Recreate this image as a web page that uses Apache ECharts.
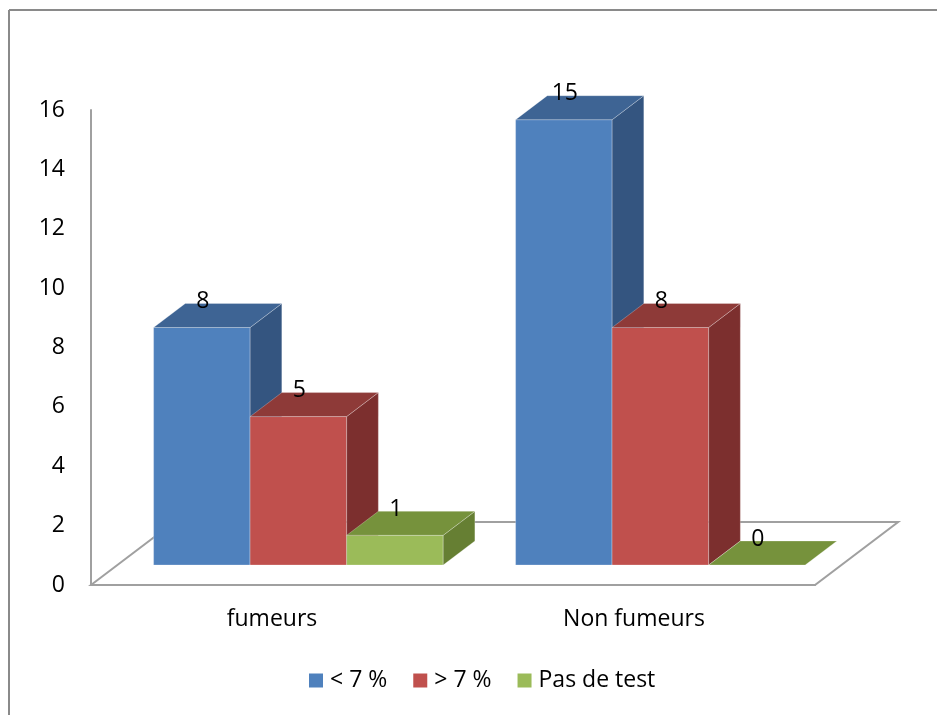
<!DOCTYPE html>
<html>
<head>
<meta charset="utf-8">
<script src="https://cdn.jsdelivr.net/npm/echarts@6/dist/echarts.min.js"></script>
<style>
html,body{margin:0;padding:0;background:#fff;}
#chart{width:937px;height:715px;}
</style>
</head>
<body>
<div id="chart"></div>
<script>
// ---- data ----
const categories = ['fumeurs', 'Non fumeurs'];
const seriesNames = ['< 7 %', '> 7 %', 'Pas de test'];
const lessThan7 = [8, 15];
const moreThan7 = [5, 8];
const noTest = [1, 0];
const yMin = 0, yMax = 16, yInterval = 2;

// ---- style ----
const FONT = '"Open Sans", sans-serif';
const FS = 23;
const palette = [
  { front: '#4F81BD', top: '#3E6494', side: '#345580' },
  { front: '#C0504D', top: '#8E3A38', side: '#7C2F2E' },
  { front: '#9BBB59', top: '#76923C', side: '#667F33' }
];
const RATIO = 1.32;         // horizontal shift per unit of depth
const FRONT_DEPTH = 20;     // bar front plane depth behind floor front
const BAR_DEPTH = 24;       // depth of a bar
const FLOOR_DEPTH = 63;     // floor depth
const GROUP = 0.8;          // fraction of category band used by the bar group

function barRender(k) {
  const c = palette[k];
  return function (params, api) {
    const ci = api.value(0), v = api.value(1);
    const base = api.coord([ci, 0]);
    const top = api.coord([ci, v]);
    const band = api.size([1, 0])[0];
    const groupW = band * GROUP;
    const barW = groupW / 3;
    const fdx = FRONT_DEPTH * RATIO, fdy = FRONT_DEPTH;
    const dx = BAR_DEPTH * RATIO, dy = BAR_DEPTH;
    const x0 = base[0] - groupW / 2 + k * barW + fdx;
    const x1 = x0 + barW;
    const yb = base[1] - fdy;
    const yt = top[1] - fdy;
    const edge = { stroke: 'rgba(255,255,255,0.25)', lineWidth: 1 };
    const children = [];
    if (yb - yt > 0.5) {
      children.push({
        type: 'rect',
        shape: { x: x0, y: yt, width: barW, height: yb - yt },
        style: Object.assign({ fill: c.front }, edge)
      });
      children.push({
        type: 'polygon',
        shape: { points: [[x1, yt], [x1 + dx, yt - dy], [x1 + dx, yb - dy], [x1, yb]] },
        style: Object.assign({ fill: c.side }, edge)
      });
    }
    children.push({
      type: 'polygon',
      shape: { points: [[x0, yt], [x1, yt], [x1 + dx, yt - dy], [x0 + dx, yt - dy]] },
      style: Object.assign({ fill: c.top }, edge)
    });
    children.push({
      type: 'text',
      style: {
        x: (x0 + x1) / 2 + 1, y: yt - 26,
        text: String(v),
        fill: '#000', font: FS + 'px ' + FONT,
        align: 'center', verticalAlign: 'middle'
      }
    });
    return { type: 'group', children: children };
  };
}

function floorRender(params, api) {
  const cs = params.coordSys;
  const fx0 = cs.x, fx1 = cs.x + cs.width, fy = cs.y + cs.height;
  const dx = FLOOR_DEPTH * RATIO, dy = FLOOR_DEPTH;
  return {
    type: 'polygon',
    shape: { points: [[fx0, fy], [fx0 + dx, fy - dy], [fx1 + dx, fy - dy], [fx1, fy]] },
    style: { fill: '#fff', stroke: '#A0A0A0', lineWidth: 2 }
  };
}

const seriesData = [lessThan7, moreThan7, noTest];

const series = [{
  type: 'custom',
  name: '__floor',
  renderItem: floorRender,
  data: [[0, 0]],
  encode: { x: 0, y: 1 },
  clip: false,
  silent: true,
  z: 1
}];
seriesData.forEach(function (arr, k) {
  series.push({
    type: 'custom',
    name: seriesNames[k],
    renderItem: barRender(k),
    data: arr.map(function (v, i) { return [i, v]; }),
    encode: { x: 0, y: 1 },
    itemStyle: { color: palette[k].front },
    clip: false,
    z: 2 + k
  });
});

const chart = echarts.init(document.getElementById('chart'), null, { renderer: 'canvas' });
chart.setOption({
  animation: false,
  backgroundColor: '#fff',
  grid: { left: 91, right: 122, top: 110, bottom: 130, containLabel: false },
  xAxis: {
    type: 'category',
    data: categories,
    axisLine: { show: true, lineStyle: { color: '#A0A0A0', width: 2 } },
    axisTick: { show: false },
    axisLabel: { color: '#000', fontSize: FS, fontFamily: FONT, margin: 23 },
    splitLine: { show: false }
  },
  yAxis: {
    type: 'value',
    min: yMin, max: yMax, interval: yInterval,
    axisLine: { show: true, lineStyle: { color: '#A0A0A0', width: 2 } },
    axisTick: { show: false },
    axisLabel: { color: '#000', fontSize: FS, fontFamily: FONT, margin: 26 },
    splitLine: { show: false }
  },
  legend: {
    data: seriesNames,
    left: 304, top: 664,
    icon: 'rect', itemWidth: 14, itemHeight: 14, itemGap: 26,
    textStyle: { color: '#000', fontSize: FS, fontFamily: FONT, padding: [0, 0, 0, 2] }
  },
  graphic: [
    { type: 'line', shape: { x1: 9, y1: 10, x2: 937, y2: 10 }, style: { stroke: '#8A8A8A', lineWidth: 2 } },
    { type: 'line', shape: { x1: 9, y1: 10, x2: 9, y2: 715 }, style: { stroke: '#8A8A8A', lineWidth: 2 } }
  ],
  series: series
});
</script>
</body>
</html>
